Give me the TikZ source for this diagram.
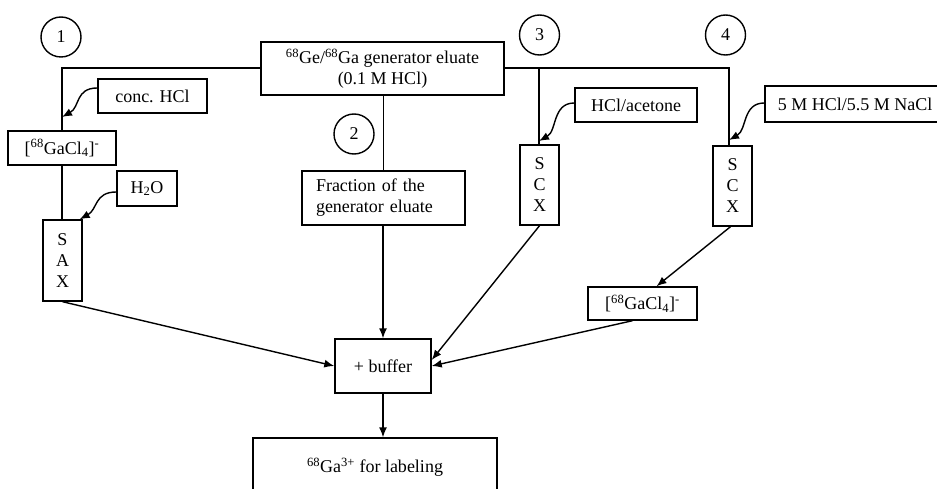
\documentclass[tikz,border=0pt]{standalone}
\usepackage{fontspec}
\setmainfont{Liberation Serif}
\usetikzlibrary{arrows.meta}

\begin{document}
\begin{tikzpicture}[x=1pt, y=-1pt, line width=1.4pt,
      every node/.style = {draw, inner sep=0pt, align=center,
        font=\fontsize{18}{21}\selectfont},
      ring/.style = {circle, minimum size=40pt},
      colbox/.style = {minimum width=39pt, minimum height=80pt},
      tip/.style = {-{Latex[length=10pt,width=8pt]}}]
  \clip (0,0) rectangle (937,489);
  % route numbers
  \node[ring] (r1) at (61,37) {1};
  \node[ring] (r2) at (354,134) {2};
  \node[ring] (r3) at (539.5,35) {3};
  \node[ring] (r4) at (725.5,35) {4};
  % boxes
  \node[minimum width=243pt, minimum height=53pt] (gen) at (382.5,68.5)
    {\textsuperscript{68}Ge/\textsuperscript{68}Ga generator eluate\\(0.1 M HCl)};
  \node[minimum width=109pt, minimum height=34pt] (conc) at (152.5,96) {conc. HCl};
  \node[minimum width=108pt, minimum height=34pt] (gacla) at (62,148)
    {[\textsuperscript{68}GaCl\textsubscript{4}]\textsuperscript{-}};
  \node[minimum width=60pt, minimum height=35pt] (water) at (147,188.5) {H\textsubscript{2}O};
  \node[colbox, minimum height=81pt] (sax) at (62.5,260.5) {S\\A\\X};
  \node[minimum width=163pt, minimum height=54pt, text width=135pt, align=left] (frac)
    at (383.5,198) {Fraction of the\\generator eluate};
  \node[minimum width=122pt, minimum height=34pt] (acet) at (636,105) {HCl/acetone};
  \node[colbox] (scxa) at (539.5,185) {S\\C\\X};
  \node[minimum width=180pt, minimum height=36pt] (nacl) at (855,104) {5 M HCl/5.5 M NaCl};
  \node[colbox] (scxb) at (732.5,186) {S\\C\\X};
  \node[minimum width=109pt, minimum height=33pt] (gaclb) at (642.5,303.5)
    {[\textsuperscript{68}GaCl\textsubscript{4}]\textsuperscript{-}};
  \node[minimum width=96pt, minimum height=54pt] (buf) at (383,366) {+ buffer};
  \node[minimum width=244pt, minimum height=58pt] (final) at (375,467)
    {\textsuperscript{68}Ga\textsuperscript{3+} for labeling};
  % junctions on the main line
  \coordinate (ja) at (62,68);
  \coordinate (jc) at (539,68);
  \coordinate (jd) at (729,68);
  \coordinate (ta) at (62,117);
  \coordinate (tc) at (539,141);
  \coordinate (td) at (729,140);
  % main lines
  \draw (gen.west |- ja) -- (ja) -- (gacla.north -| ja);
  \draw (gacla.south) -- (sax.north -| gacla.south);
  \draw (gen.east |- jc) -- (jd) -- (jd |- scxb.north);
  \draw (jc) -- (jc |- scxa.north);
  \draw (gen.south -| frac.north) -- (frac.north);
  % reagent feeds
  \draw[tip] ([yshift=8pt]conc.west) .. controls +(-22,0) and +(18,-10) .. (ta);
  \draw[tip] ([yshift=-3.5pt]water.west) .. controls +(-22,0) and +(18,-10) .. ([xshift=-3pt]sax.north east);
  \draw[tip] ([yshift=2pt]acet.west) .. controls +(-22,0) and +(18,-10) .. (tc);
  \draw[tip] ([yshift=1pt]nacl.west) .. controls +(-22,0) and +(18,-10) .. (td);
  % to buffer
  \draw[tip] (sax.south) -- (buf.west);
  \draw[tip] (frac.south -| buf.north) -- (buf.north);
  \draw[tip] (scxa.south) -- ([yshift=6pt]buf.east);
  \draw[tip] ([xshift=-2pt]scxb.south) -- ([xshift=14pt]gaclb.north);
  \draw[tip] ([xshift=-10pt]gaclb.south) -- (buf.east);
  \draw[tip] (buf.south) -- (final.north -| buf.south);
\end{tikzpicture}
\end{document}
